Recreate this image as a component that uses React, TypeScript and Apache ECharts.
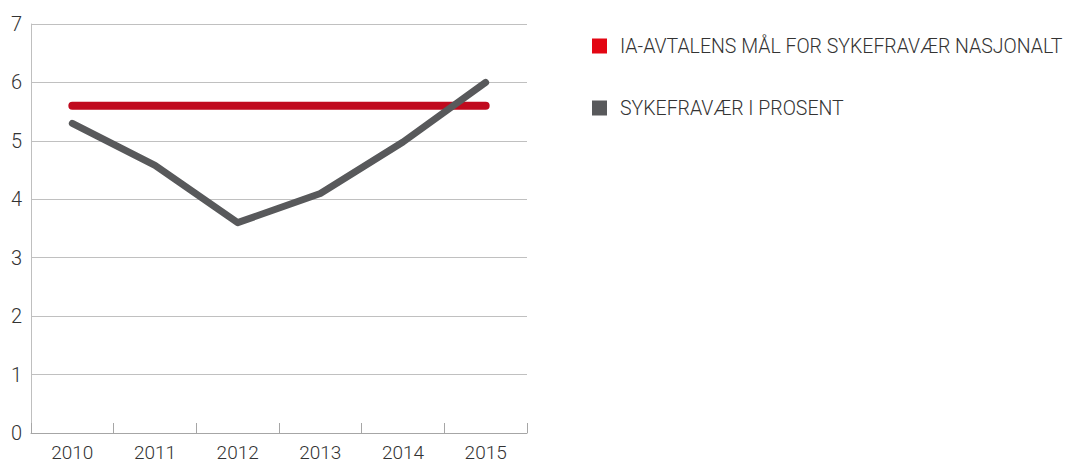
import React, { useEffect, useRef } from "react";
import * as echarts from "echarts";

const years = ["2010", "2011", "2012", "2013", "2014", "2015"];
const targetValues = [5.6, 5.6, 5.6, 5.6, 5.6, 5.6];
const absenceValues = [5.3, 4.58, 3.6, 4.1, 4.98, 6.0];
const seriesNames = ["IA-AVTALENS MÅL FOR SYKEFRAVÆR NASJONALT", "SYKEFRAVÆR I PROSENT"];

const FONT = "Roboto, sans-serif";

export default function App() {
  const ref = useRef<HTMLDivElement>(null);
  useEffect(() => {
    if (!ref.current) return;
    const chart = echarts.init(ref.current, undefined, { renderer: "svg" });
    chart.setOption({
      animation: false,
      grid: { left: 31, right: 539, top: 24, bottom: 30 },
      legend: {
        orient: "vertical",
        left: 587,
        top: 31,
        itemGap: 42,
        itemWidth: 15,
        itemHeight: 15,
        icon: "rect",
        textStyle: { fontFamily: FONT, fontWeight: 300, fontSize: 19.5, color: "#333333", padding: [0, 0, 0, 8] },
        data: [
          { name: seriesNames[0], itemStyle: { color: "#e30613" } },
          { name: seriesNames[1], itemStyle: { color: "#58595b" } },
        ],
      },
      xAxis: {
        type: "category",
        data: years,
        boundaryGap: true,
        axisLine: { show: true, lineStyle: { color: "#a6a6a6", width: 1 } },
        axisTick: { show: true, inside: true, length: 10, lineStyle: { color: "#a6a6a6" } },
        axisLabel: { fontFamily: FONT, fontWeight: 300, fontSize: 19, lineHeight: 19, color: "#333333", margin: 10 },
      },
      yAxis: {
        type: "value",
        min: 0,
        max: 7,
        interval: 1,
        axisLine: { show: true, lineStyle: { color: "#bfbfbf", width: 1 } },
        axisTick: { show: false },
        splitLine: { lineStyle: { color: "#c0c0c0", width: 1 } },
        axisLabel: { fontFamily: FONT, fontWeight: 300, fontSize: 20, color: "#333333", margin: 9 },
      },
      series: [
        {
          name: seriesNames[0],
          type: "line",
          data: targetValues,
          symbol: "none",
          lineStyle: { color: "#c00a1e", width: 8, cap: "round" },
          itemStyle: { color: "#e30613" },
        },
        {
          name: seriesNames[1],
          type: "line",
          data: absenceValues,
          symbol: "none",
          lineStyle: { color: "#58595b", width: 7, cap: "round", join: "round" },
          itemStyle: { color: "#58595b" },
        },
      ],
    });
    return () => chart.dispose();
  }, []);
  return <div ref={ref} style={{ width: 1066, height: 463, position: "absolute", left: 0, top: 0 }} />;
}
